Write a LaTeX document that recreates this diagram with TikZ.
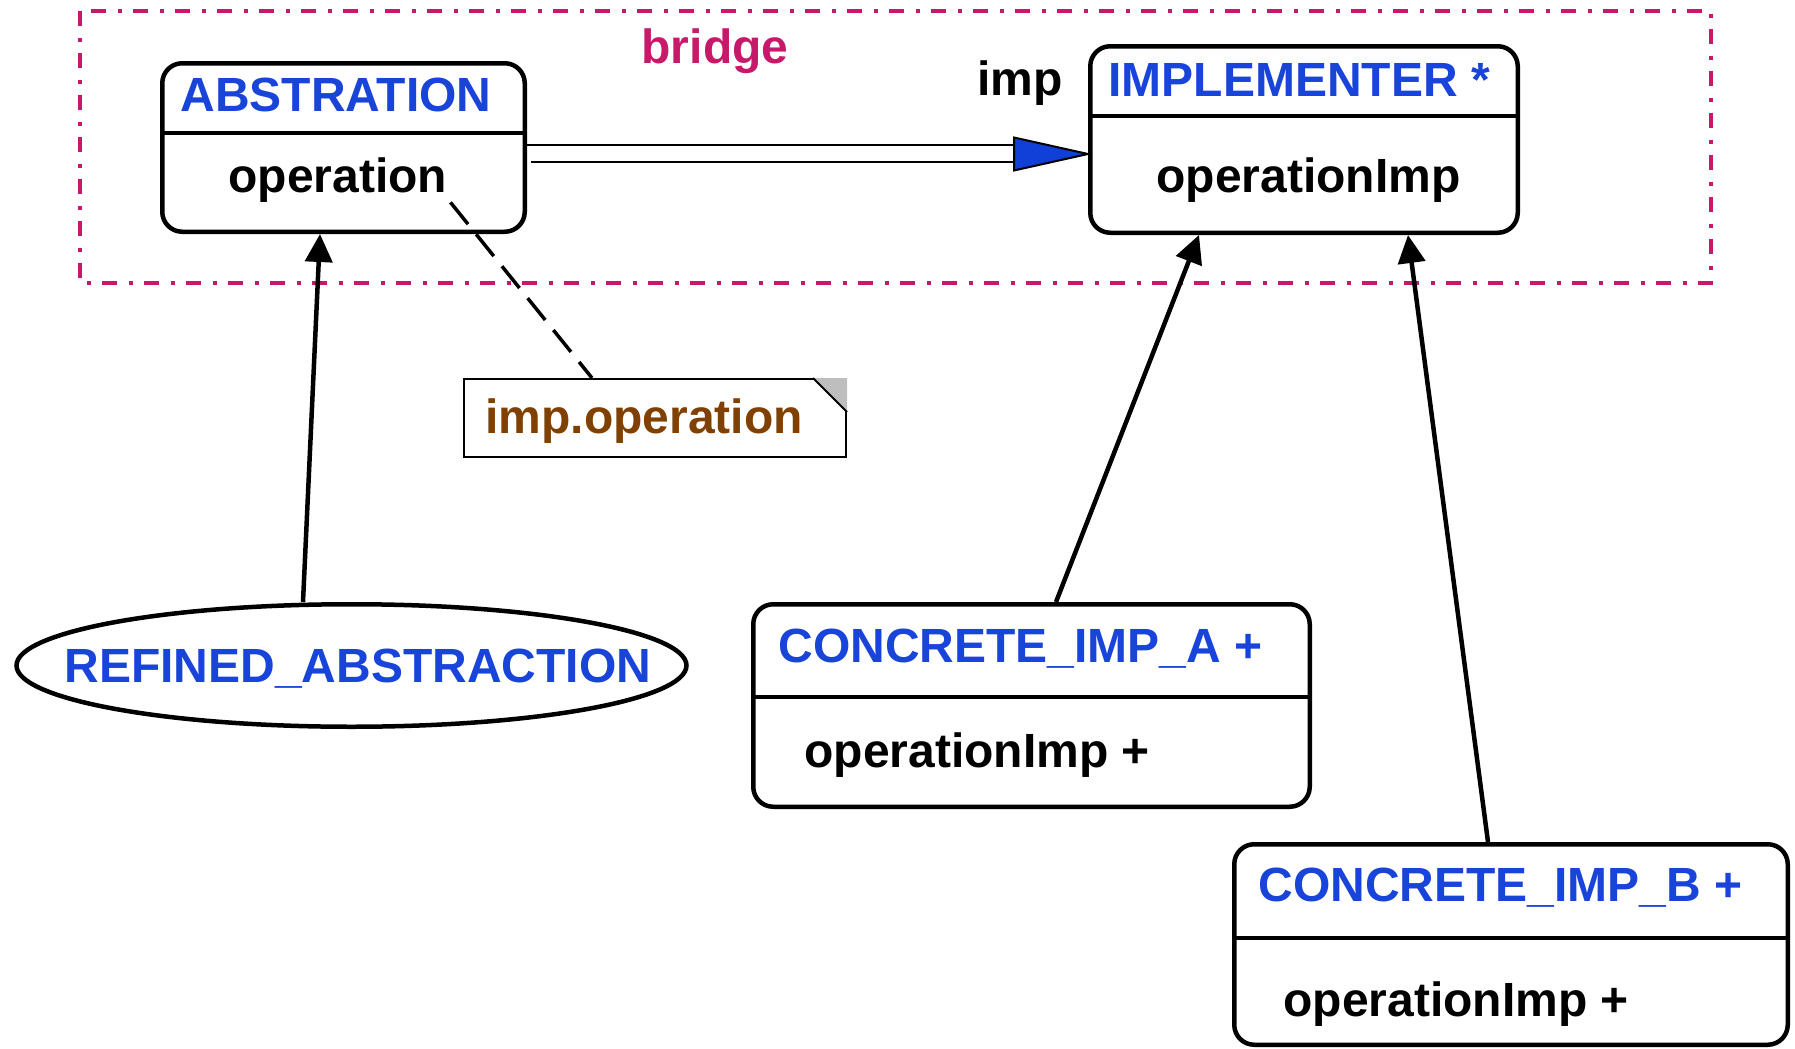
\documentclass[tikz,border=0pt]{standalone}
\usepackage{fontspec}
\setmainfont{Liberation Sans}
\usetikzlibrary{shapes.geometric,arrows.meta,calc}

\definecolor{classblue}{RGB}{24,68,218}
\definecolor{tipblue}{RGB}{16,64,216}
\definecolor{bridgepink}{RGB}{200,24,106}
\definecolor{notebrown}{RGB}{128,64,0}
\definecolor{foldgray}{RGB}{190,190,190}

\tikzset{
  every node/.style={font=\fontsize{24}{28}\selectfont\bfseries},
  classbox/.style={draw, line width=2.25pt, rounded corners=10pt, rectangle, inner sep=0pt},
  divider/.style={line width=2.25pt},
  label/.style={anchor=base west, inner sep=0pt},
  title/.style={label, text=classblue},
  member/.style={label, text=black},
  inherit/.style={line width=2.25pt, -{Triangle[length=14pt,width=13.5pt]}},
  notelink/.style={line width=1.75pt, dash pattern=on 14pt off 6.5pt},
  framebox/.style={draw=bridgepink, line width=1.75pt,
    dash pattern=on 7.5pt off 5.75pt on 2pt off 5.75pt},
  assoc/.style={line width=1pt},
}

\begin{document}
\begin{tikzpicture}[x=0.5pt, y=-0.5pt]
  \useasboundingbox (0,0) rectangle (1795,1049);

  % bridge frame
  \draw[framebox] (80,11) rectangle (1711,283);
  \node[anchor=base, text=bridgepink, inner sep=0pt] (bridgelbl) at (715,63) {bridge};

  % abstraction class
  \node[classbox, minimum width=181.25pt, minimum height=84.25pt] (abs) at (343.5,147.5) {};
  \coordinate (absdiv) at (0,133);
  \draw[divider] (abs.west |- absdiv) -- (abs.east |- absdiv);
  \node[title] (absname) at (180,111.5) {ABSTRATION};
  \node[member] (absop) at (228,192) {operation};

  % implementer class
  \node[classbox, minimum width=213.75pt, minimum height=93.25pt] (impl) at (1304,139.5) {};
  \coordinate (impldiv) at (0,116);
  \draw[divider] (impl.west |- impldiv) -- (impl.east |- impldiv);
  \node[title] (implname) at (1108,96) {IMPLEMENTER *};
  \node[member] (implop) at (1156,192) {operationImp};
  \node[anchor=base east, inner sep=0pt] (implrole) at (1063,95) {imp};

  % refined abstraction
  \node[draw, ellipse, line width=2.25pt, minimum width=335pt, minimum height=61.25pt, inner sep=0pt]
    (refined) at (351.5,665.5) {};
  \node[title] (refname) at (64,682) {REFINED\_ABSTRACTION};

  % concrete implementer A
  \node[classbox, minimum width=278.25pt, minimum height=101.25pt] (ca) at (1031.5,705.5) {};
  \coordinate (cadiv) at (0,697);
  \draw[divider] (ca.west |- cadiv) -- (ca.east |- cadiv);
  \node[title] (caname) at (778,662) {CONCRETE\_IMP\_A +};
  \node[member] (caop) at (804,767) {operationImp +};

  % concrete implementer B
  \node[classbox, minimum width=276.75pt, minimum height=100.25pt] (cb) at (1511,944.5) {};
  \coordinate (cbdiv) at (0,938);
  \draw[divider] (cb.west |- cbdiv) -- (cb.east |- cbdiv);
  \node[title] (cbname) at (1258,901.5) {CONCRETE\_IMP\_B +};
  \node[member] (cbop) at (1283,1016.5) {operationImp +};

  % note
  \node[draw, line width=1pt, rectangle, minimum width=191pt, minimum height=39pt, inner sep=0pt]
    (note) at (655,418) {};
  \fill[foldgray] ($(note.north east)+(-34,0)$) -- (note.north east) -- ($(note.north east)+(0,34)$) -- cycle;
  \draw[line width=1pt] ($(note.north east)+(-34,0)$) -- ($(note.north east)+(0,34)$);
  \node[label, text=notebrown] (notetext) at (485,433) {imp.operation};

  % note link
  \draw[notelink] ($(absop.south east)+(3,0)$) -- ($(note.north)+(-63,0)$);

  % generalisations
  \draw[inherit] ($(refined.north)+(-48.5,0)$) -- ($(abs.south)+(-23.5,0)$);
  \draw[inherit] ($(ca.north)+(24.5,0)$) -- ($(impl.south)+(-105,0)$);
  \draw[inherit] ($(cb.north)+(-23,0)$) -- ($(impl.south)+(104,0)$);

  % imp association
  \coordinate (tip) at ($(impl.west)+(0,14.5)$);
  \draw[assoc] ($(abs.east |- tip)+(0,-9)$) -- ($(tip)+(-74,-9)$);
  \draw[assoc] ($(abs.east |- tip)+(4,8)$) -- ($(tip)+(-74,8)$);
  \draw[assoc, fill=tipblue, line join=miter] ($(tip)+(-74,-16.5)$) -- (tip) -- ($(tip)+(-74,16.5)$) -- cycle;
\end{tikzpicture}
\end{document}
